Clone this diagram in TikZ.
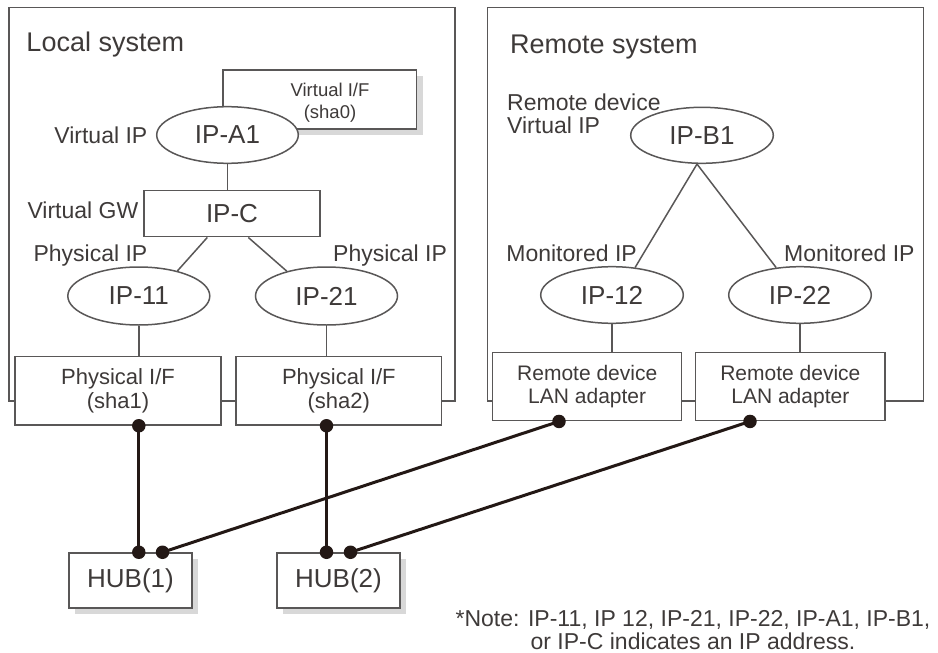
\documentclass[tikz,border=0pt]{standalone}
\usepackage{fontspec}
\setmainfont{Liberation Sans}
\usetikzlibrary{shapes.geometric,shadows,calc}
\definecolor{ln}{HTML}{595757}
\definecolor{tx}{HTML}{3E3A39}
\definecolor{dk}{HTML}{231815}
\begin{document}
\begin{tikzpicture}[x=1pt,y=-1pt,
 sys/.style={draw=ln, line width=1.5pt, rectangle, inner sep=0pt},
 box/.style={draw=ln, line width=1.5pt, fill=white, rectangle, inner sep=0pt, align=center, text=tx},
 ell/.style={draw=ln, line width=1.5pt, fill=white, ellipse, inner sep=0pt, text=tx, font=\fontsize{26}{28}\selectfont},
 lbl/.style={inner sep=0pt, text=tx, font=\fontsize{23}{23}\selectfont},
 thinline/.style={draw=ln, line width=1.5pt},
 wire/.style={draw=dk, line width=3pt},
 dotnode/.style={circle, fill=dk, inner sep=0pt, minimum size=13.5pt},
 shd/.style={drop shadow={shadow xshift=6pt, shadow yshift=-6pt, fill=black!30}}
]
\useasboundingbox (0,0) rectangle (938,653);
% system boxes
\node[sys, minimum width=446pt, minimum height=393.5pt] (local) at (232,204.25) {};
\node[sys, minimum width=436pt, minimum height=393.7pt] (remote) at (705.3,204.15) {};
\node[lbl, font=\fontsize{27}{27}\selectfont, anchor=base west] (localt) at (26.3,51.7) {Local system};
\node[lbl, font=\fontsize{27}{27}\selectfont, anchor=base west] (remotet) at (510,53.3) {Remote system};

% local system
\node[box, shd, minimum width=193.7pt, minimum height=59pt] (vif) at (319.85,99.5) {};
\node[lbl, font=\fontsize{18.5}{22}\selectfont, align=center] (vift) at (330,103) {Virtual I/F\\(sha0)};
\node[ell, minimum width=141.6pt, minimum height=56.6pt] (ipa1) at (227.5,135) {IP-A1};
\node[box, minimum width=176pt, minimum height=46pt, font=\fontsize{26}{28}\selectfont] (ipc) at (232,213.7) {IP-C};
\node[ell, minimum width=142pt, minimum height=58pt] (ip11) at (138.8,296) {IP-11};
\node[ell, minimum width=142pt, minimum height=58pt] (ip21) at (326.5,296) {IP-21};
\node[box, minimum width=206pt, minimum height=68.3pt, font=\fontsize{22}{24}\selectfont] (sha1) at (118,390.85) {Physical I/F\\(sha1)};
\node[box, minimum width=205.7pt, minimum height=68.3pt, font=\fontsize{22}{24}\selectfont] (sha2) at (338.85,390.85) {Physical I/F\\(sha2)};

\node[lbl, anchor=base east] (lvip) at (147.5,143.3) {Virtual IP};
\node[lbl, anchor=base east] (lvgw) at (138.5,218.3) {Virtual GW};
\node[lbl, anchor=base east] (lpip1) at (147.5,261.7) {Physical IP};
\node[lbl, anchor=base west] (lpip2) at (333,261.7) {Physical IP};

% remote system
\node[ell, minimum width=142.6pt, minimum height=56pt] (ipb1) at (702,135.3) {IP-B1};
\node[ell, minimum width=142.6pt, minimum height=56.6pt] (ip12) at (612,295) {IP-12};
\node[ell, minimum width=142.6pt, minimum height=56.6pt] (ip22) at (800,295) {IP-22};
\node[box, minimum width=189pt, minimum height=68pt, font=\fontsize{21}{23}\selectfont] (lan1) at (587.2,386.7) {Remote device\\LAN adapter};
\node[box, minimum width=189.3pt, minimum height=68pt, font=\fontsize{21}{23}\selectfont] (lan2) at (790.35,386.7) {Remote device\\LAN adapter};

\node[lbl, anchor=base west, align=left] (lrdv) at (507,133.3) {Remote device\\Virtual IP};
\node[lbl, anchor=base east] (lmip1) at (637,261.7) {Monitored IP};
\node[lbl, anchor=base west] (lmip2) at (784,261.7) {Monitored IP};

% hubs
\node[box, shd, minimum width=123pt, minimum height=55pt, font=\fontsize{26}{28}\selectfont] (hub1) at (130.5,580.5) {HUB(1)};
\node[box, shd, minimum width=123pt, minimum height=55pt, font=\fontsize{26}{28}\selectfont] (hub2) at (338.5,580.5) {HUB(2)};

% thin connectors
\draw[thinline] (ipa1.south) -- (ipa1.south |- ipc.north);
\draw[thinline] ($(ipc.south)+(-24.7,0)$) -- (ip11.33);
\draw[thinline] ($(ipc.south)+(16.3,0)$) -- (ip21.148);
\draw[thinline] (ip11.south) -- (ip11.south |- sha1.north);
\draw[thinline] (ip21.south) -- (ip21.south |- sha2.north);
\draw[thinline] ($(ipb1.south)+(-5,0)$) -- (ip12.50);
\draw[thinline] ($(ipb1.south)+(-5,0)$) -- (ip22.131);
\draw[thinline] (ip12.south) -- (ip12.south |- lan1.north);
\draw[thinline] (ip22.south) -- (ip22.south |- lan2.north);

% wires
\coordinate (p1) at (sha1.south -| ip11.south);
\coordinate (p2) at (sha2.south -| ip21.south);
\coordinate (h1a) at (p1 |- hub1.north);
\coordinate (h1b) at ($(h1a)+(23.7,0)$);
\coordinate (h2a) at (p2 |- hub2.north);
\coordinate (h2b) at ($(h2a)+(24,0)$);
\coordinate (q1) at ($(lan1.south)+(-28.2,0)$);
\coordinate (q2) at ($(lan2.south)+(-40.35,0)$);
\draw[wire] (p1) -- (h1a);
\draw[wire] (p2) -- (h2a);
\draw[wire] (q1) -- (h1b);
\draw[wire] (q2) -- (h2b);
\node[dotnode] (dp1) at (p1) {};
\node[dotnode] (dp2) at (p2) {};
\node[dotnode] (dh1a) at (h1a) {};
\node[dotnode] (dh1b) at (h1b) {};
\node[dotnode] (dh2a) at (h2a) {};
\node[dotnode] (dh2b) at (h2b) {};
\node[dotnode] (dq1) at (q1) {};
\node[dotnode] (dq2) at (q2) {};

% note
\node[lbl, align=center, font=\fontsize{23}{22.5}\selectfont] (note) at (693,630) {*Note: IP-11, IP 12, IP-21, IP-22, IP-A1, IP-B1,\\or IP-C indicates an IP address.};
\end{tikzpicture}
\end{document}
